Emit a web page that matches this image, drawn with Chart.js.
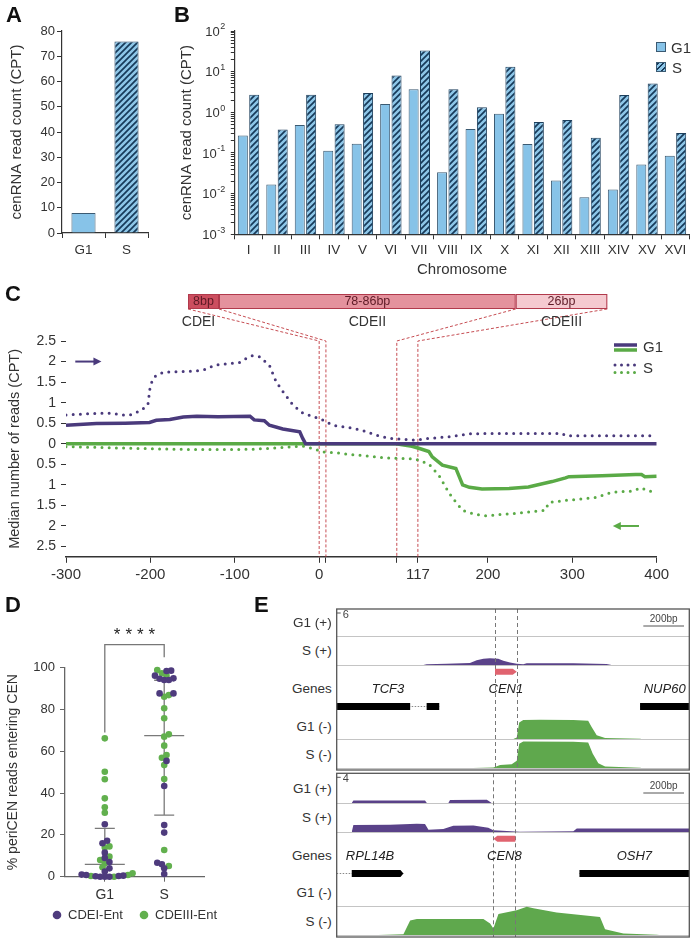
<!DOCTYPE html>
<html>
<head>
<meta charset="utf-8">
<script src="https://cdn.jsdelivr.net/npm/chart.js@4.4.1/dist/chart.umd.min.js"></script>
<style>
body { margin: 0; background: #fff; font-family: "Liberation Sans", Arial, sans-serif; color: #333; }
#page { position: relative; width: 693px; height: 940px; overflow: hidden; }
canvas { position: absolute; }
.panel { position: absolute; font-weight: bold; font-size: 22px; line-height: 1; color: #111; }
.lbl { position: absolute; white-space: nowrap; line-height: 14px; font-size: 13.5px; color: #333; }
.box { position: absolute; width: 10px; height: 10px; box-sizing: border-box; border: 1px solid #3b5a72; }
</style>
</head>
<body>
<div id="page">
  <canvas id="cA" width="150" height="270" style="left:0;top:0"></canvas>
  <canvas id="cB" width="553" height="280" style="left:140px;top:0"></canvas>
  <canvas id="cC" width="693" height="300" style="left:0;top:285px"></canvas>
  <canvas id="cD" width="240" height="325" style="left:0;top:615px"></canvas>
  <canvas id="cE1" width="356" height="165" style="left:335px;top:607px"></canvas>
  <canvas id="cE2" width="356" height="167" style="left:335px;top:772px"></canvas>

  <div class="panel" style="left:6px;top:4px">A</div>
  <div class="panel" style="left:174px;top:4px">B</div>
  <div class="panel" style="left:5px;top:283px">C</div>
  <div class="panel" style="left:5px;top:594px">D</div>
  <div class="panel" style="left:254px;top:594px">E</div>

  <!-- legend B -->
  <div class="box" style="left:656px;top:42px;background:#87c3e8"></div>
  <div class="lbl" style="left:671px;top:40px;font-size:15px;line-height:15px">G1</div>
  <div class="box" style="left:656px;top:62px;background:repeating-linear-gradient(135deg,#173a5a 0 1.5px,#8dc6e8 1.5px 4px)"></div>
  <div class="lbl" style="left:672px;top:60px;font-size:15px;line-height:15px">S</div>

  <div id="eLabels"></div>
</div>

<script>
// ---------- data ----------
var aCats = ['G1', 'S'];
var aVals = [7.9, 75.8];

var bChroms = ['I', 'II', 'III', 'IV', 'V', 'VI', 'VII', 'VIII', 'IX', 'X', 'XI', 'XII', 'XIII', 'XIV', 'XV', 'XVI'];
var bG1 = [0.268, 0.0167, 0.49, 0.113, 0.168, 1.6, 3.7, 0.0336, 0.39, 0.92, 0.167, 0.021, 0.0082, 0.0126, 0.052, 0.086];
var bS = [2.7, 0.376, 2.7, 0.51, 3.0, 8.1, 33, 3.7, 1.34, 13.2, 0.58, 0.65, 0.236, 2.68, 5.1, 0.31];
var bMajor = [0.001, 0.01, 0.1, 1, 10, 100];
var bMajorExp = ['-3', '-2', '-1', '0', '1', '2'];

// C: [position (bp), median reads]; minus strand drawn below zero
var cG1Plus = [[-300, 0.45], [-264, 0.49], [-230, 0.5], [-201, 0.52], [-193, 0.57], [-177, 0.59], [-161, 0.65], [-145, 0.67],
  [-120, 0.66], [-82, 0.67], [-77, 0.58], [-65, 0.56], [-59, 0.45], [-43, 0.36], [-23, 0.29], [-19.5, 0.13], [-16, 0], [400, 0]];
var cSPlus = [[-300, 0.70], [-264, 0.74], [-245, 0.74], [-232, 0.70], [-224, 0.70], [-212, 0.80], [-203, 0.94], [-200, 1.43],
  [-195, 1.63], [-185, 1.74], [-160, 1.76], [-146, 1.77], [-134, 1.81], [-124, 1.91], [-94, 1.98], [-86, 2.08], [-80, 2.14],
  [-71, 2.12], [-59, 1.91], [-51, 1.51], [-43, 1.27], [-31, 0.94], [-19, 0.74], [-8, 0.67], [4, 0.58], [16, 0.45], [36, 0.39],
  [51, 0.33], [67, 0.21], [83, 0.13], [99, 0.11], [114, 0.09], [130, 0.13], [154, 0.17], [177, 0.24], [200, 0.25], [288, 0.25],
  [292, 0.195], [400, 0.195]];
var cG1Minus = [[-300, 0], [91, 0], [110, -0.06], [118, -0.11], [130, -0.19], [134, -0.32], [146, -0.52], [162, -0.6], [166, -0.8],
  [170, -1.0], [178, -1.06], [193, -1.10], [225, -1.09], [248, -1.05], [276, -0.92], [292, -0.83], [296, -0.8], [335, -0.78],
  [375, -0.75], [382, -0.75], [386, -0.8], [400, -0.79]];
var cSMinus = [[-300, -0.07], [-260, -0.09], [-224, -0.11], [-180, -0.13], [-145, -0.14], [-100, -0.14], [-77, -0.13], [-50, -0.1],
  [-30, -0.07], [-18, -0.06], [-5, -0.13], [4, -0.2], [20, -0.22], [36, -0.26], [60, -0.3], [75, -0.34], [100, -0.36], [114, -0.37],
  [130, -0.49], [142, -0.77], [154, -1.2], [162, -1.42], [170, -1.62], [185, -1.72], [197, -1.75], [230, -1.7], [268, -1.62],
  [272, -1.43], [296, -1.37], [327, -1.31], [347, -1.18], [371, -1.15], [382, -1.07], [390, -1.15], [400, -1.16]];
var cXTicks = [-300, -200, -100, 0, 8, 92, 117, 200, 300, 400];
var cXLabels = ['-300', '-200', '-100', '0', '', '', '117', '200', '300', '400'];
var cYTicks = [2.5, 2, 1.5, 1, 0.5, 0, -0.5, -1, -1.5, -2, -2.5];
var cCde = [['CDEI', '8bp', 0, 8], ['CDEII', '78-86bp', 8, 92], ['CDEIII', '26bp', 92, 117]];

// D: % periCEN reads entering CEN
var dCats = ['G1', 'S'];
var dG1CdeI = [25.1, 17.2, 16.0, 11.5, 9.0, 7.0, 4.0, 2.5, 1.0, 0.8, 0.5, 0.3, 0.2, 0, 0, 0];
var dG1CdeIII = [66.2, 50.2, 46.6, 37.5, 33.2, 30.6, 14.5, 14.0, 9.6, 8.0, 6.4, 4.5, 1.6, 0.8, 0.3, 0];
var dSCdeI = [98.6, 98.4, 96.2, 94.9, 94.7, 94.1, 94.1, 87.7, 87.7, 55.4, 43.4, 24.7, 21.1, 6.7, 5.9, 4.0, 1.3];
var dSCdeIII = [98.9, 97.3, 96.1, 86.9, 86.1, 80.6, 75.8, 68.1, 67.0, 62.7, 58.2, 56.9, 53.4, 46.7, 12.8, 5.1];
var dMedian = [5.9, 67.5];
var dQ1 = [0, 29.5];
var dQ3 = [23.1, 94.0];
var dYTicks = [0, 20, 40, 60, 80, 100];

// E: browser tracks, [position (bp from CEN start), coverage]
var e1SPlus = [[-352, 0], [-336, 0.15], [-237, 0.25], [-123, 0.4], [-90, 1.0], [-57, 1.3], [-25, 1.4], [16, 1.3], [41, 0.9],
  [74, 0.5], [107, 0.25], [139, 0.15], [156, 0.35], [385, 0.35], [549, 0.2], [573, 0]];
var e1G1Minus = [[90, 0], [107, 0.3], [119, 3.4], [139, 3.95], [221, 4.0], [385, 3.95], [458, 3.8], [475, 2.5], [500, 0.8],
  [541, 0.2], [713, 0.05], [720, 0]];
var e1SMinus = [[-107, 0], [-8, 0.1], [25, 0.6], [82, 0.8], [107, 1.5], [119, 5.0], [139, 5.5], [385, 5.45], [458, 5.3],
  [480, 3.0], [508, 1.0], [541, 0.3], [713, 0.05], [720, 0]];
var e8G1Plus = [[-696, 0], [-688, 0.35], [-336, 0.35], [-327, 0], [-221, 0], [-213, 0.4], [-32, 0.45], [-8, 0]];
var e8SPlus = [[-696, 0], [-688, 0.95], [-508, 1.0], [-376, 1.15], [-336, 1.1], [-319, 0.3], [-246, 0.4], [-197, 0.85],
  [-98, 0.9], [-25, 0.6], [0, 0.25], [66, 0.15], [131, 0.05], [393, 0.1], [410, 0.5], [963, 0.5]];
var e8SMinus = [[-565, 0], [-442, 0.1], [-409, 2.0], [-376, 2.2], [-49, 2.2], [-16, 1.6], [0, 0.9], [25, 2.9], [115, 3.4],
  [164, 3.9], [197, 3.7], [311, 3.1], [524, 2.5], [549, 0.8], [639, 0.2], [803, 0.05], [815, 0]];
// genes: name, thin span, blocks, tip
var e1Genes = [['TCF3', [-778, -274], [[-778, -417], [-336, -274]], ''], ['NUP60', [713, 955], [[713, 955]], '']];
var e8Genes = [['RPL14B', [-770, -442], [[-696, -442]], '>'], ['OSH7', [423, 963], [[423, 963]], '']];
var e1Cen = ['CEN1', 0, 107, '+'];
var e8Cen = ['CEN8', 0, 108, '-'];

// ---------- style ----------
Chart.defaults.font.family = '"Liberation Sans", Arial, sans-serif';
Chart.defaults.color = '#333';
Chart.defaults.animation = false;
Chart.defaults.responsive = false;
Chart.defaults.devicePixelRatio = 1;
Chart.defaults.plugins.legend.display = false;
Chart.defaults.plugins.tooltip.enabled = false;

var axisCol = '#333';
var blueFill = '#87c3e8', blueEdge = '#3b5a72';
var purple = '#4a3a7c', green = '#5aaa46';
var ePurple = '#5a4289', eGreen = '#5fa84d', cenPink = '#e0636f';

function hatch(bg, fg) {
  var c = document.createElement('canvas');
  c.width = 6; c.height = 6;
  var g = c.getContext('2d');
  g.fillStyle = bg; g.fillRect(0, 0, 6, 6);
  g.strokeStyle = fg; g.lineWidth = 1.7;
  g.beginPath();
  g.moveTo(0, 6); g.lineTo(6, 0);
  g.moveTo(-1, 1); g.lineTo(1, -1);
  g.moveTo(5, 7); g.lineTo(7, 5);
  g.stroke();
  return g.createPattern(c, 'repeat');
}
var hatchFill = hatch('#8dc6e8', '#173a5a');

// ---------- A ----------
new Chart(document.getElementById('cA'), {
  type: 'bar',
  data: {
    labels: aCats,
    datasets: [{
      data: aVals,
      backgroundColor: [blueFill, hatchFill],
      borderColor: [blueEdge, '#1d3f5c'],
      borderWidth: 1,
      barPercentage: 0.56,
      categoryPercentage: 1
    }]
  },
  options: {
    layout: { padding: { top: 31, right: 2, left: 0, bottom: 0 } },
    scales: {
      x: {
        afterFit: function (s) { s.height = 37; },
        grid: { offset: true, drawOnChartArea: false, tickLength: 5, color: axisCol },
        border: { color: axisCol, width: 1.2 },
        ticks: { font: { size: 13.5 }, padding: 3.9 }
      },
      y: {
        min: 0, max: 80,
        afterFit: function (s) { s.width = 62; },
        grid: { drawOnChartArea: false, tickLength: 5, color: axisCol },
        border: { color: axisCol, width: 1.2 },
        ticks: { stepSize: 10, font: { size: 13 }, padding: 2 },
        title: { display: true, text: 'cenRNA read count (CPT)', font: { size: 15 }, padding: { top: 7.7, bottom: 0 } }
      }
    }
  }
});

// ---------- B ----------
var bAllTicks = [];
for (var e = -3; e <= 1; e++) {
  for (var m = 1; m <= 9; m++) bAllTicks.push(m * Math.pow(10, e));
}
bAllTicks.push(100);

// powers of ten with a raised exponent
var bPowerLabels = {
  id: 'bPowerLabels',
  afterDraw: function (chart) {
    var ctx = chart.ctx, y = chart.scales.y, right = chart.chartArea.left - 9;
    ctx.save();
    ctx.fillStyle = '#333'; ctx.textBaseline = 'middle'; ctx.textAlign = 'right';
    bMajor.forEach(function (v, i) {
      var py = y.getPixelForValue(v);
      ctx.font = '9px "Liberation Sans", Arial';
      var ew = ctx.measureText(bMajorExp[i]).width;
      ctx.fillText(bMajorExp[i], right, py - 4);
      ctx.font = '13px "Liberation Sans", Arial';
      ctx.fillText('10', right - ew - 0.5, py + 1);
    });
    ctx.restore();
  }
};

new Chart(document.getElementById('cB'), {
  type: 'bar',
  data: {
    labels: bChroms,
    datasets: [
      { label: 'G1', data: bG1, backgroundColor: blueFill, borderColor: blueEdge, borderWidth: 1, barPercentage: 0.88, categoryPercentage: 0.8 },
      { label: 'S', data: bS, backgroundColor: hatchFill, borderColor: '#1d3f5c', borderWidth: 1, barPercentage: 0.88, categoryPercentage: 0.8 }
    ]
  },
  options: {
    layout: { padding: { top: 31, right: 3.3, left: 0, bottom: 0 } },
    scales: {
      x: {
        afterFit: function (s) { s.height = 45.7; },
        grid: { offset: true, drawOnChartArea: false, tickLength: 5, color: axisCol },
        border: { color: axisCol, width: 1.2 },
        ticks: { font: { size: 13.5 }, padding: 2.6, maxRotation: 0, autoSkip: false },
        title: { display: true, text: 'Chromosome', font: { size: 15 }, padding: { top: 0, bottom: 1 } }
      },
      y: {
        type: 'logarithmic', min: 0.001, max: 100,
        afterBuildTicks: function (s) { s.ticks = bAllTicks.map(function (v) { return { value: v }; }); },
        afterFit: function (s) { s.width = 94.3; },
        grid: { drawOnChartArea: false, tickLength: 3.5, color: axisCol },
        border: { color: axisCol, width: 1.2 },
        ticks: { autoSkip: false, callback: function () { return ''; } },
        title: { display: true, text: 'cenRNA read count (CPT)', font: { size: 15 }, padding: { top: 37.7, bottom: 0 } }
      }
    }
  },
  plugins: [bPowerLabels]
});

// ---------- C ----------
var cBoxEdges = [188, 219, 515.7, 607.3];   // schematic box edges (canvas px)
var cBoxTop = 9, cBoxBottom = 24;
var cBoxColors = ['#cc4e5f', '#e4929d', '#f5cad0'];

function arrow(ctx, x1, x2, y, col) {
  var dir = x2 > x1 ? 1 : -1;
  ctx.strokeStyle = col; ctx.fillStyle = col; ctx.lineWidth = 2;
  ctx.beginPath(); ctx.moveTo(x1, y); ctx.lineTo(x2 - dir * 6, y); ctx.stroke();
  ctx.beginPath(); ctx.moveTo(x2, y); ctx.lineTo(x2 - dir * 8, y - 4); ctx.lineTo(x2 - dir * 8, y + 4); ctx.closePath(); ctx.fill();
}

var cDecor = {
  id: 'cDecor',
  beforeDatasetsDraw: function (chart) {
    var ctx = chart.ctx, ca = chart.chartArea, x = chart.scales.x;
    var bps = [cCde[0][2], cCde[0][3], cCde[1][3], cCde[2][3]];
    ctx.save();
    ctx.strokeStyle = '#c0393f'; ctx.lineWidth = 0.9; ctx.setLineDash([3, 2]);
    bps.forEach(function (bp, i) {
      var px = x.getPixelForValue(bp);
      ctx.beginPath();
      ctx.moveTo(cBoxEdges[i], cBoxBottom);
      ctx.lineTo(px, ca.top);
      ctx.lineTo(px, ca.bottom);
      ctx.stroke();
    });
    ctx.restore();
  },
  afterDraw: function (chart) {
    var ctx = chart.ctx, x = chart.scales.x, y = chart.scales.y;
    ctx.save();
    // schematic
    cCde.forEach(function (c, i) {
      var l = cBoxEdges[i], r = cBoxEdges[i + 1];
      ctx.fillStyle = cBoxColors[i];
      ctx.fillRect(l, cBoxTop, r - l, cBoxBottom - cBoxTop);
      ctx.strokeStyle = '#b13a4c'; ctx.lineWidth = 1;
      ctx.strokeRect(l + 0.5, cBoxTop + 0.5, r - l - 1, cBoxBottom - cBoxTop - 1);
      ctx.fillStyle = '#5e1a26';
      ctx.font = '12.5px "Liberation Sans", Arial';
      ctx.textAlign = 'center'; ctx.textBaseline = 'middle';
      ctx.fillText(c[1], (l + r) / 2, (cBoxTop + cBoxBottom) / 2 + 0.5);
      ctx.fillStyle = '#333';
      ctx.font = '14px "Liberation Sans", Arial';
      ctx.fillText(c[0], (l + r) / 2 - (i === 0 ? 5 : 0), 37);
    });
    // strand arrows
    arrow(ctx, x.getPixelForValue(-289), x.getPixelForValue(-258), y.getPixelForValue(2), purple);
    arrow(ctx, x.getPixelForValue(379), x.getPixelForValue(348), y.getPixelForValue(-2), green);
    // legend
    ctx.lineWidth = 3.5; ctx.setLineDash([]); ctx.lineCap = 'butt';
    [[60, purple], [65, green]].forEach(function (p) {
      ctx.strokeStyle = p[1]; ctx.beginPath(); ctx.moveTo(614, p[0]); ctx.lineTo(637, p[0]); ctx.stroke();
    });
    ctx.lineWidth = 3; ctx.setLineDash([0, 6.5]); ctx.lineCap = 'round';
    [[80, purple], [87.5, green]].forEach(function (p) {
      ctx.strokeStyle = p[1]; ctx.beginPath(); ctx.moveTo(615, p[0]); ctx.lineTo(638, p[0]); ctx.stroke();
    });
    ctx.setLineDash([]);
    ctx.fillStyle = '#333'; ctx.font = '15px "Liberation Sans", Arial';
    ctx.textAlign = 'left'; ctx.textBaseline = 'middle';
    ctx.fillText('G1', 643, 63);
    ctx.fillText('S', 643, 84);
    ctx.restore();
  }
};

function cLine(pts, col, dotted) {
  return {
    data: pts.map(function (p) { return { x: p[0], y: p[1] }; }),
    borderColor: col,
    borderWidth: dotted ? 3 : 3.5,
    borderDash: dotted ? [0, 7.2] : [],
    borderCapStyle: dotted ? 'round' : 'butt',
    pointRadius: 0, tension: 0, fill: false
  };
}

new Chart(document.getElementById('cC'), {
  type: 'line',
  data: { datasets: [cLine(cG1Plus, purple, false), cLine(cSPlus, purple, true), cLine(cG1Minus, green, false), cLine(cSMinus, green, true)] },
  options: {
    layout: { padding: { top: 56, right: 36.3, left: 0, bottom: 0 } },
    scales: {
      x: {
        type: 'linear', min: -300, max: 400,
        afterBuildTicks: function (s) { s.ticks = cXTicks.map(function (v) { return { value: v }; }); },
        afterFit: function (s) { s.height = 28.2; },
        grid: { drawOnChartArea: false, tickLength: 6, color: axisCol },
        border: { color: axisCol, width: 1.5 },
        ticks: { autoSkip: false, maxRotation: 0, font: { size: 15 }, padding: 3.2, callback: function (v, i) { return cXLabels[i]; } }
      },
      y: {
        min: -2.75, max: 2.5,
        afterBuildTicks: function (s) { s.ticks = cYTicks.map(function (v) { return { value: v }; }); },
        afterFit: function (s) { s.width = 66; },
        grid: { drawOnChartArea: false, tickLength: 5, color: axisCol },
        border: { display: false },
        ticks: { autoSkip: false, font: { size: 14 }, padding: 5, callback: function (v) { return String(Math.abs(v)); } },
        title: { display: true, text: 'Median number of reads (CPT)', font: { size: 14.5 }, padding: { top: 6.3, bottom: 0 } }
      }
    }
  },
  plugins: [cDecor]
});

// ---------- D ----------
// simple beeswarm: offsets in x units; dots may overlap a little like in a dense scatter
function swarm(vals, r, kx, ky) {
  var idx = vals.map(function (v, i) { return i; }).sort(function (a, b) { return vals[a] - vals[b]; });
  var placed = [], out = [];
  var minD = 1.3 * r, step = 0.7 * r;
  idx.forEach(function (i) {
    var py = vals[i] * ky, best = 0;
    for (var k = 0; k < 40; k++) {
      var cands = k === 0 ? [0] : [k * step, -k * step];
      var ok = null;
      for (var c = 0; c < cands.length; c++) {
        var cx = cands[c];
        var free = placed.every(function (p) { return Math.pow(p.x - cx, 2) + Math.pow(p.y - py, 2) >= minD * minD; });
        if (free) { ok = cx; break; }
      }
      if (ok !== null) { best = ok; break; }
    }
    placed.push({ x: best, y: py });
    out[i] = best / kx;
  });
  return out;
}
function groupPoints(cat, purpleVals, greenVals) {
  var all = purpleVals.concat(greenVals);
  var off = swarm(all, 3.3, 59.3, 2.09);
  var pts = all.map(function (v, i) { return { x: cat + off[i], y: v }; });
  return [pts.slice(0, purpleVals.length), pts.slice(purpleVals.length)];
}
var dG1 = groupPoints(1, dG1CdeI, dG1CdeIII);
var dS = groupPoints(2, dSCdeI, dSCdeIII);
var dPurple = '#4e3b7d', dGreen = '#62b04e';

var dDecor = {
  id: 'dDecor',
  beforeDatasetsDraw: function (chart) {
    var ctx = chart.ctx, x = chart.scales.x, y = chart.scales.y;
    ctx.save();
    ctx.strokeStyle = '#7a7a7a'; ctx.lineWidth = 1.3;
    [1, 2].forEach(function (c, i) {
      var px = x.getPixelForValue(c);
      ctx.beginPath();
      ctx.moveTo(px, y.getPixelForValue(dQ1[i])); ctx.lineTo(px, y.getPixelForValue(dQ3[i]));
      ctx.moveTo(px - 20, y.getPixelForValue(dMedian[i])); ctx.lineTo(px + 20, y.getPixelForValue(dMedian[i]));
      ctx.moveTo(px - 10, y.getPixelForValue(dQ3[i])); ctx.lineTo(px + 10, y.getPixelForValue(dQ3[i]));
      if (dQ1[i] > 0) { ctx.moveTo(px - 10, y.getPixelForValue(dQ1[i])); ctx.lineTo(px + 10, y.getPixelForValue(dQ1[i])); }
      ctx.stroke();
    });
    ctx.restore();
  },
  afterDraw: function (chart) {
    var ctx = chart.ctx, x = chart.scales.x, y = chart.scales.y;
    var x1 = x.getPixelForValue(1), x2 = x.getPixelForValue(2), yTop = y.getPixelForValue(111);
    ctx.save();
    ctx.strokeStyle = '#777'; ctx.lineWidth = 1.3;
    ctx.beginPath();
    ctx.moveTo(x1, y.getPixelForValue(69)); ctx.lineTo(x1, yTop); ctx.lineTo(x2, yTop); ctx.lineTo(x2, y.getPixelForValue(105));
    ctx.stroke();
    ctx.fillStyle = '#222'; ctx.font = '17px "Liberation Sans", Arial';
    ctx.textAlign = 'center'; ctx.textBaseline = 'middle';
    if ('letterSpacing' in ctx) ctx.letterSpacing = '5px';
    ctx.fillText('****', (x1 + x2) / 2 + 2.5, yTop - 9);
    if ('letterSpacing' in ctx) ctx.letterSpacing = '0px';
    // legend
    ctx.font = '13px "Liberation Sans", Arial'; ctx.textAlign = 'left';
    [[57, dPurple, 'CDEI-Ent'], [144, dGreen, 'CDEIII-Ent']].forEach(function (l) {
      ctx.fillStyle = l[1];
      ctx.beginPath(); ctx.arc(l[0], 300, 4.3, 0, Math.PI * 2); ctx.fill();
      ctx.fillStyle = '#333';
      ctx.fillText(l[2], l[0] + 11, 300.5);
    });
    ctx.restore();
  }
};

new Chart(document.getElementById('cD'), {
  type: 'scatter',
  data: {
    datasets: [
      { data: dG1[0].concat(dS[0]), backgroundColor: dPurple, borderWidth: 0, pointRadius: 3.3, clip: false },
      { data: dG1[1].concat(dS[1]), backgroundColor: dGreen, borderWidth: 0, pointRadius: 3.3, clip: false }
    ]
  },
  options: {
    layout: { padding: { top: 52.7, right: 36, left: 0, bottom: 0 } },
    scales: {
      x: {
        type: 'linear', min: 0.33, max: 2.67,
        afterBuildTicks: function (s) { s.ticks = [{ value: 1 }, { value: 2 }]; },
        afterFit: function (s) { s.height = 63.3; },
        grid: { drawOnChartArea: false, tickLength: 5, color: '#666' },
        border: { color: '#666', width: 1.3 },
        ticks: { font: { size: 14 }, padding: 5, callback: function (v, i) { return dCats[i]; } }
      },
      y: {
        min: 0, max: 100,
        afterBuildTicks: function (s) { s.ticks = dYTicks.map(function (v) { return { value: v }; }); },
        afterFit: function (s) { s.width = 65; },
        grid: { drawOnChartArea: false, tickLength: 5, color: '#666' },
        border: { color: '#666', width: 1.3 },
        ticks: { font: { size: 13 }, padding: 5 },
        title: { display: true, text: '% periCEN reads entering CEN', font: { size: 14 }, padding: { top: 4.9, bottom: 0 } }
      }
    }
  },
  plugins: [dDecor]
});

// ---------- E ----------
// vertical layout of one browser block, px from the bottom of the box
var eLayout = { g1p: 134, sp: 105, cen: 98.3, gene: 63.5, label: 81, g1m: 31, sm: 2, bar: 144, barText: 150.5 };
var eTrackPx = 29;

function eDecor(cfg) {
  return {
    id: 'eDecor',
    beforeDatasetsDraw: function (chart) {
      var ctx = chart.ctx, ca = chart.chartArea, y = chart.scales.y;
      ctx.save();
      ctx.strokeStyle = '#c4c4c4'; ctx.lineWidth = 1;
      ['g1p', 'sp', 'g1m', 'sm'].forEach(function (k) {
        var py = Math.round(y.getPixelForValue(eLayout[k])) + 0.5;
        ctx.beginPath(); ctx.moveTo(ca.left, py); ctx.lineTo(ca.right, py); ctx.stroke();
      });
      ctx.restore();
    },
    afterDatasetsDraw: function (chart) {
      var ctx = chart.ctx, ca = chart.chartArea, x = chart.scales.x, y = chart.scales.y;
      var cen = cfg.cen;
      ctx.save();
      // centromere borders
      ctx.strokeStyle = '#777'; ctx.lineWidth = 1; ctx.setLineDash([4, 3]);
      [cen[1], cen[2]].forEach(function (bp) {
        var px = Math.round(x.getPixelForValue(bp)) + 0.5;
        ctx.beginPath(); ctx.moveTo(px, ca.top); ctx.lineTo(px, ca.bottom); ctx.stroke();
      });
      ctx.setLineDash([]);
      // genes
      var gy = y.getPixelForValue(eLayout.gene);
      cfg.genes.forEach(function (g) {
        ctx.strokeStyle = '#888'; ctx.lineWidth = 1; ctx.setLineDash([1.5, 1.5]);
        ctx.beginPath(); ctx.moveTo(x.getPixelForValue(g[1][0]), gy); ctx.lineTo(x.getPixelForValue(g[1][1]), gy); ctx.stroke();
        ctx.setLineDash([]);
        ctx.fillStyle = '#000';
        g[2].forEach(function (b, i) {
          var l = x.getPixelForValue(b[0]), r = x.getPixelForValue(b[1]);
          ctx.beginPath();
          if (g[3] === '>' && i === g[2].length - 1) {
            ctx.moveTo(l, gy - 3.5); ctx.lineTo(r - 3, gy - 3.5); ctx.lineTo(r, gy); ctx.lineTo(r - 3, gy + 3.5); ctx.lineTo(l, gy + 3.5);
          } else {
            ctx.rect(l, gy - 3.5, r - l, 7);
          }
          ctx.fill();
        });
      });
      // centromere arrow
      var cl = x.getPixelForValue(cen[1]), cr = x.getPixelForValue(cen[2]), cy = y.getPixelForValue(eLayout.cen);
      ctx.fillStyle = cenPink;
      ctx.beginPath();
      if (cen[3] === '+') {
        ctx.moveTo(cl, cy - 3); ctx.lineTo(cr - 4, cy - 3); ctx.lineTo(cr, cy); ctx.lineTo(cr - 4, cy + 3); ctx.lineTo(cl, cy + 3);
      } else {
        ctx.moveTo(cr, cy - 3); ctx.lineTo(cl + 4, cy - 3); ctx.lineTo(cl, cy); ctx.lineTo(cl + 4, cy + 3); ctx.lineTo(cr, cy + 3);
      }
      ctx.closePath(); ctx.fill();
      // gene names
      ctx.fillStyle = '#222'; ctx.font = 'italic 13px "Liberation Sans", Arial';
      ctx.textAlign = 'center'; ctx.textBaseline = 'middle';
      var ly = y.getPixelForValue(eLayout.label);
      cfg.genes.concat([[cen[0], [cen[1], cen[2]]]]).forEach(function (g) {
        var a = Math.max(g[1][0], x.min), b = Math.min(g[1][1], x.max);
        ctx.fillText(g[0], x.getPixelForValue((a + b) / 2), ly);
      });
      // scale bar
      var sb1 = x.getPixelForValue(x.max - 226), sb2 = x.getPixelForValue(x.max - 26), sy = y.getPixelForValue(eLayout.bar);
      ctx.strokeStyle = '#555'; ctx.lineWidth = 1;
      ctx.beginPath(); ctx.moveTo(sb1, sy); ctx.lineTo(sb2, sy); ctx.stroke();
      ctx.fillStyle = '#444'; ctx.font = '10px "Liberation Sans", Arial';
      ctx.fillText('200bp', (sb1 + sb2) / 2, y.getPixelForValue(eLayout.barText));
      // data range label
      ctx.strokeStyle = '#555';
      ctx.beginPath(); ctx.moveTo(ca.left, ca.top + 4); ctx.lineTo(ca.left + 4, ca.top + 4); ctx.stroke();
      ctx.textAlign = 'left'; ctx.font = '11px "Liberation Sans", Arial';
      ctx.fillText(String(cfg.max), ca.left + 6, ca.top + 6);
      // frame
      ctx.strokeStyle = '#555'; ctx.lineWidth = 1.3;
      ctx.strokeRect(ca.left, ca.top, ca.right - ca.left, ca.bottom - ca.top);
      ctx.restore();
    }
  };
}

function eBlock(id, cfg) {
  var k = eTrackPx / cfg.max;
  var datasets = cfg.tracks.filter(function (t) { return t[1].length; }).map(function (t) {
    var base = eLayout[t[0]];
    return {
      data: t[1].map(function (p) { return { x: p[0], y: base + p[1] * k }; }),
      fill: { value: base },
      backgroundColor: t[2], borderColor: t[2], borderWidth: 0,
      pointRadius: 0, tension: 0
    };
  });
  new Chart(document.getElementById(id), {
    type: 'line',
    data: { datasets: datasets },
    options: {
      layout: { padding: cfg.pad },
      scales: {
        x: { type: 'linear', min: cfg.xMin, max: cfg.xMax, display: false },
        y: { min: 0, max: cfg.h, display: false }
      }
    },
    plugins: [eDecor(cfg)]
  });
}

eBlock('cE1', {
  xMin: -778, xMax: 955, h: 161, max: 6, pad: { left: 1.7, right: 1.7, top: 2, bottom: 2 },
  tracks: [['sp', e1SPlus, ePurple], ['g1m', e1G1Minus, eGreen], ['sm', e1SMinus, eGreen]],
  genes: e1Genes, cen: e1Cen
});
eBlock('cE2', {
  xMin: -770, xMax: 963, h: 163.7, max: 4, pad: { left: 1.7, right: 1.7, top: 1.3, bottom: 2 },
  tracks: [['g1p', e8G1Plus, ePurple], ['sp', e8SPlus, ePurple], ['sm', e8SMinus, eGreen]],
  genes: e8Genes, cen: e8Cen
});

// track names left of the browser blocks
var eTrackNames = ['G1 (+)', 'S (+)', 'Genes', 'G1 (-)', 'S (-)'];
var eNameY = [[623, 651, 689, 726.5, 755], [789, 817.5, 855.5, 893, 921.5]];
var holder = document.getElementById('eLabels');
eNameY.forEach(function (ys) {
  ys.forEach(function (cy, i) {
    var d = document.createElement('div');
    d.className = 'lbl';
    d.style.right = (693 - 331.7) + 'px';
    d.style.top = (cy - 7) + 'px';
    d.textContent = eTrackNames[i];
    holder.appendChild(d);
  });
});
</script>
</body>
</html>
